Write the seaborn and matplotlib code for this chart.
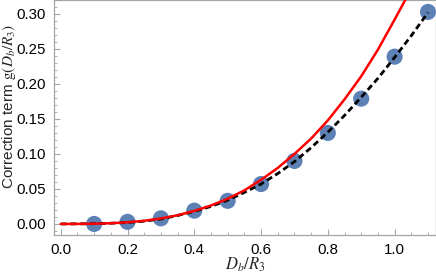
import numpy as np
import pandas as pd
import matplotlib
matplotlib.use("Agg")
import matplotlib.pyplot as plt
import seaborn as sns
from matplotlib.ticker import MultipleLocator, FormatStrFormatter

# simulated data points
x_pts = [0.1, 0.2, 0.3, 0.4, 0.5, 0.6, 0.7, 0.8, 0.9, 1.0, 1.1]
g_pts = [0.000, 0.003, 0.008, 0.019, 0.033, 0.057, 0.090, 0.130, 0.179, 0.239, 0.303]

# black dashed fit
x_fit = [0.0, 0.05, 0.1, 0.15, 0.2, 0.25, 0.3, 0.35, 0.4, 0.45, 0.5, 0.55,
         0.6, 0.65, 0.7, 0.75, 0.8, 0.85, 0.9, 0.95, 1.0, 1.05, 1.1]
g_fit = [0.0, 0.0001, 0.0004, 0.001, 0.002, 0.004, 0.007, 0.012, 0.018, 0.025,
         0.034, 0.045, 0.057, 0.072, 0.089, 0.109, 0.131, 0.155, 0.181, 0.208,
         0.238, 0.269, 0.302]

# red curve (small-D expansion)
x_red = [0.0, 0.05, 0.1, 0.15, 0.2, 0.25, 0.3, 0.35, 0.4, 0.45, 0.5, 0.55,
         0.6, 0.65, 0.7, 0.75, 0.8, 0.85, 0.9, 0.95, 1.0, 1.05]
g_red = [0.0, 0.00004, 0.0003, 0.001, 0.0023, 0.0045, 0.0078, 0.0124, 0.0186,
         0.0264, 0.036, 0.048, 0.063, 0.080, 0.100, 0.122, 0.148, 0.178, 0.211,
         0.249, 0.292, 0.336]

pts = pd.DataFrame({"x": x_pts, "g": g_pts})
fit = pd.DataFrame({"x": x_fit, "g": g_fit})
red = pd.DataFrame({"x": x_red, "g": g_red})

sns.set_style("ticks")
plt.rcParams["font.family"] = ["Liberation Sans", "DejaVu Sans"]
plt.rcParams["mathtext.fontset"] = "stix"

fig = plt.figure(figsize=(4.36, 2.79), dpi=100)
ax = fig.add_axes([0.124, 0.158, 0.876, 0.842])

sns.scatterplot(data=pts, x="x", y="g", ax=ax, s=135, color="#5E81B5",
                edgecolor="none", zorder=2)
sns.lineplot(data=fit, x="x", y="g", ax=ax, color="black", lw=2.0,
             sort=False, estimator=None, zorder=3,
             linestyle=(0, (2.2, 1.3)))
sns.lineplot(data=red, x="x", y="g", ax=ax, color="#FF0000", lw=1.8,
             sort=False, estimator=None, zorder=4)

ax.set_xlim(-0.02, 1.124)
ax.set_ylim(-0.0157, 0.32)
ax.xaxis.set_major_locator(MultipleLocator(0.2))
ax.xaxis.set_minor_locator(MultipleLocator(0.05))
ax.yaxis.set_major_locator(MultipleLocator(0.05))
ax.yaxis.set_minor_locator(MultipleLocator(0.01))
ax.xaxis.set_major_formatter(FormatStrFormatter("%.1f"))
ax.yaxis.set_major_formatter(FormatStrFormatter("%.2f"))

for s in ax.spines.values():
    s.set_color("#A6A6A6")
    s.set_linewidth(0.9)
ax.tick_params(which="both", direction="in", color="#A6A6A6",
               labelsize=10.8, labelcolor="black", top=False, right=False)
ax.tick_params(which="major", length=4, width=0.8, pad=6)
ax.tick_params(which="minor", length=2, width=0.6)

ax.set_xlabel("")
ax.set_ylabel("")
fig.text(245 / 436, 1 - 265 / 279, r"$D_b/R_3$", fontsize=12,
         ha="center", va="center")
fig.text(9 / 436, 1 - 106 / 279, r"Correction term $\mathrm{g}(D_b/R_3)$",
         fontsize=11, rotation=90, ha="center", va="center")

fig.savefig("out.png", dpi=100)
